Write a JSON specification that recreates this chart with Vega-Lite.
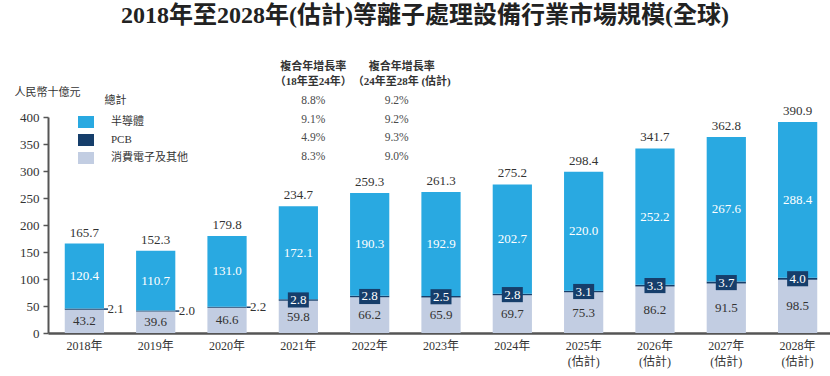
{
  "$schema": "https://vega.github.io/schema/vega-lite/v6.json",
  "width": 786,
  "height": 216,
  "autosize": {"type": "none"},
  "padding": {"left": 48, "top": 117, "right": 0, "bottom": 43},
  "background": "white",
  "config": {
    "view": {"stroke": null},
    "font": "Liberation Serif, Noto Sans CJK TC",
    "axisY": {
      "grid": false,
      "labelOverlap": false,
      "labelFont": "Liberation Serif",
      "labelFontSize": 13,
      "labelColor": "#333333",
      "labelPadding": 4,
      "tickColor": "#555555",
      "tickSize": 5,
      "tickWidth": 1.5,
      "domainColor": "#555555",
      "domainWidth": 2,
      "titleAngle": 0,
      "titleX": -34,
      "titleY": -25,
      "titleAlign": "left",
      "titleBaseline": "middle",
      "titleFont": "Noto Sans CJK TC",
      "titleFontSize": 11,
      "titleFontWeight": "normal",
      "titleColor": "#333333"
    }
  },
  "title": {
    "text": "2018年至2028年(估計)等離子處理設備行業市場規模(全球)",
    "font": "Liberation Serif, Noto Sans CJK TC",
    "fontSize": 24,
    "fontWeight": "bold",
    "color": "#222222",
    "anchor": "middle",
    "frame": "group",
    "dx": -16,
    "offset": 33
  },
  "datasets": {
    "bars": [
      {"year": "2018年", "semi": 120.4, "pcb": 2.1, "cons": 43.2, "total": 165.7},
      {"year": "2019年", "semi": 110.7, "pcb": 2.0, "cons": 39.6, "total": 152.3},
      {"year": "2020年", "semi": 131.0, "pcb": 2.2, "cons": 46.6, "total": 179.8},
      {"year": "2021年", "semi": 172.1, "pcb": 2.8, "cons": 59.8, "total": 234.7},
      {"year": "2022年", "semi": 190.3, "pcb": 2.8, "cons": 66.2, "total": 259.3},
      {"year": "2023年", "semi": 192.9, "pcb": 2.5, "cons": 65.9, "total": 261.3},
      {"year": "2024年", "semi": 202.7, "pcb": 2.8, "cons": 69.7, "total": 275.2},
      {"year": "2025年", "semi": 220.0, "pcb": 3.1, "cons": 75.3, "total": 298.4},
      {"year": "2026年", "semi": 252.2, "pcb": 3.3, "cons": 86.2, "total": 341.7},
      {"year": "2027年", "semi": 267.6, "pcb": 3.7, "cons": 91.5, "total": 362.8},
      {"year": "2028年", "semi": 288.4, "pcb": 4.0, "cons": 98.5, "total": 390.9}
    ],
    "cagr": [
      {"row": "hdr", "name": "", "c1": "複合年增長率\n（18年至24年）", "c2": "複合年增長率\n（24年至28年 (估計)"},
      {"row": "total", "name": "總計", "c1": "8.8%", "c2": "9.2%"},
      {"row": "semi", "name": "", "c1": "9.1%", "c2": "9.2%"},
      {"row": "pcb", "name": "", "c1": "4.9%", "c2": "9.3%"},
      {"row": "cons", "name": "", "c1": "8.3%", "c2": "9.0%"}
    ]
  },
  "layer": [
    {
      "data": {"name": "bars"},
      "transform": [
        {"fold": ["cons", "pcb", "semi"], "as": ["seg", "value"]},
        {"calculate": "indexof(['cons','pcb','semi'], datum.seg)", "as": "ord"},
        {"stack": "value", "groupby": ["year"], "sort": [{"field": "ord", "order": "ascending"}], "as": ["v0", "v1"]},
        {"calculate": "(datum.v0 + datum.v1) / 2", "as": "mid"},
        {"calculate": "toNumber(slice(datum.year, 0, 4))", "as": "yr"}
      ],
      "encoding": {
        "x": {
          "field": "year",
          "type": "ordinal",
          "sort": null,
          "scale": {
            "domain": ["2018年", "2019年", "2020年", "2021年", "2022年", "2023年", "2024年", "2025年", "2026年", "2027年", "2028年"],
            "paddingInner": 0.45,
            "paddingOuter": 0.235
          },
          "axis": {
            "title": null,
            "ticks": false,
            "domainColor": "#555555",
            "domainWidth": 2.5,
            "labelFont": "Liberation Serif, Noto Sans CJK TC",
            "labelFontSize": 12,
            "labelColor": "#333333",
            "labelPadding": 7,
            "labelLineHeight": 16,
            "labelAngle": 0,
            "labelExpr": "toNumber(slice(datum.value, 0, 4)) >= 2025 ? [datum.value, '(估計)'] : datum.value"
          }
        }
      },
      "layer": [
        {
          "mark": {"type": "bar"},
          "encoding": {
            "y": {
              "field": "v0",
              "type": "quantitative",
              "scale": {"domain": [0, 400], "nice": false},
              "axis": {"values": [0, 50, 100, 150, 200, 250, 300, 350, 400], "title": "人民幣十億元"}
            },
            "y2": {"field": "v1"},
            "color": {
              "field": "seg",
              "type": "nominal",
              "scale": {"domain": ["semi", "pcb", "cons"], "range": ["#29A9E1", "#163E6B", "#C2CDE2"]},
              "legend": {
                "orient": "none",
                "legendX": 30,
                "legendY": -3,
                "title": null,
                "padding": 0,
                "symbolType": "M-1,-0.75H1V0.75H-1Z",
                "symbolSize": 256,
                "symbolStrokeWidth": 0,
                "symbolOpacity": 1,
                "labelExpr": "datum.value == 'semi' ? '半導體' : datum.value == 'pcb' ? 'PCB' : '消費電子及其他'",
                "labelFont": "Liberation Serif, Noto Sans CJK TC",
                "labelFontSize": 11,
                "labelColor": "#333333",
                "labelOffset": 17,
                "rowPadding": 4
              }
            },
            "order": {"field": "ord"}
          }
        },
        {
          "transform": [{"filter": "datum.seg == 'semi'"}],
          "mark": {"type": "text", "color": "white", "fontSize": 13, "font": "Liberation Serif", "baseline": "middle"},
          "encoding": {
            "y": {"field": "mid", "type": "quantitative", "axis": {"values": [0, 50, 100, 150, 200, 250, 300, 350, 400], "title": "人民幣十億元"}},
            "text": {"field": "value", "type": "quantitative", "format": ".1f"}
          }
        },
        {
          "transform": [{"filter": "datum.seg == 'cons'"}],
          "mark": {"type": "text", "color": "#333333", "fontSize": 13, "font": "Liberation Serif", "baseline": "middle"},
          "encoding": {
            "y": {"field": "mid", "type": "quantitative", "axis": {"values": [0, 50, 100, 150, 200, 250, 300, 350, 400], "title": "人民幣十億元"}},
            "text": {"field": "value", "type": "quantitative", "format": ".1f"}
          }
        },
        {
          "transform": [{"filter": "datum.seg == 'semi'"}],
          "mark": {"type": "text", "color": "#333333", "fontSize": 13, "font": "Liberation Serif", "baseline": "bottom", "dy": -4},
          "encoding": {
            "y": {"field": "v1", "type": "quantitative", "axis": {"values": [0, 50, 100, 150, 200, 250, 300, 350, 400], "title": "人民幣十億元"}},
            "text": {"field": "total", "type": "quantitative", "format": ".1f"}
          }
        },
        {
          "transform": [{"filter": "datum.seg == 'pcb' && datum.yr >= 2021"}],
          "mark": {"type": "point", "shape": "M-1,-0.72H1V0.72H-1Z", "size": 441, "filled": true, "opacity": 1, "color": "#163E6B", "strokeWidth": 0},
          "encoding": {
            "y": {"field": "mid", "type": "quantitative", "axis": {"values": [0, 50, 100, 150, 200, 250, 300, 350, 400], "title": "人民幣十億元"}}
          }
        },
        {
          "transform": [{"filter": "datum.seg == 'pcb' && datum.yr >= 2021"}],
          "mark": {"type": "text", "color": "white", "fontSize": 13, "font": "Liberation Serif", "baseline": "middle"},
          "encoding": {
            "y": {"field": "mid", "type": "quantitative", "axis": {"values": [0, 50, 100, 150, 200, 250, 300, 350, 400], "title": "人民幣十億元"}},
            "text": {"field": "value", "type": "quantitative", "format": ".1f"}
          }
        },
        {
          "transform": [{"filter": "datum.seg == 'pcb' && datum.yr < 2021"}],
          "mark": {"type": "rule", "color": "#163E6B", "strokeWidth": 1.5, "x2Offset": 4},
          "encoding": {
            "x": {"field": "year", "type": "ordinal", "bandPosition": 1},
            "x2": {"field": "year", "bandPosition": 1},
            "y": {"field": "mid", "type": "quantitative", "axis": {"values": [0, 50, 100, 150, 200, 250, 300, 350, 400], "title": "人民幣十億元"}}
          }
        },
        {
          "transform": [{"filter": "datum.seg == 'pcb' && datum.yr < 2021"}],
          "mark": {"type": "text", "color": "#333333", "fontSize": 13, "font": "Liberation Serif", "baseline": "middle", "align": "left", "dx": 23},
          "encoding": {
            "y": {"field": "mid", "type": "quantitative", "axis": {"values": [0, 50, 100, 150, 200, 250, 300, 350, 400], "title": "人民幣十億元"}},
            "text": {"field": "value", "type": "quantitative", "format": ".1f"}
          }
        }
      ]
    },
    {
      "data": {"name": "cagr"},
      "encoding": {
        "y": {
          "field": "row",
          "type": "ordinal",
          "scale": {"type": "point", "domain": ["hdr", "total", "semi", "pcb", "cons"], "range": [-34.5, 39.5], "padding": 0},
          "axis": null
        }
      },
      "layer": [
        {
          "transform": [{"filter": "datum.row == 'total'"}],
          "mark": {"type": "text", "color": "#333333", "fontSize": 11, "font": "Noto Sans CJK TC", "baseline": "middle", "dx": 31},
          "encoding": {
            "x": {"datum": "2018年", "type": "ordinal"},
            "text": {"field": "name"}
          }
        },
        {
          "transform": [{"filter": "datum.row != 'hdr'"}],
          "mark": {"type": "text", "color": "#4a4a4a", "fontSize": 11.5, "font": "Liberation Serif", "baseline": "middle", "dx": 15},
          "encoding": {
            "x": {"datum": "2021年", "type": "ordinal"},
            "text": {"field": "c1"}
          }
        },
        {
          "transform": [{"filter": "datum.row != 'hdr'"}],
          "mark": {"type": "text", "color": "#4a4a4a", "fontSize": 11.5, "font": "Liberation Serif", "baseline": "middle", "dx": 27},
          "encoding": {
            "x": {"datum": "2022年", "type": "ordinal"},
            "text": {"field": "c2"}
          }
        },
        {
          "transform": [{"filter": "datum.row == 'hdr'"}],
          "mark": {"type": "text", "color": "#333333", "fontSize": 11, "fontWeight": "bold", "font": "Liberation Serif, Noto Sans CJK TC", "baseline": "middle", "lineBreak": "\n", "lineHeight": 15, "dx": 15, "dy": -15.5},
          "encoding": {
            "x": {"datum": "2021年", "type": "ordinal"},
            "text": {"field": "c1"}
          }
        },
        {
          "transform": [{"filter": "datum.row == 'hdr'"}],
          "mark": {"type": "text", "color": "#333333", "fontSize": 11, "fontWeight": "bold", "font": "Liberation Serif, Noto Sans CJK TC", "baseline": "middle", "lineBreak": "\n", "lineHeight": 15, "dx": 32, "dy": -15.5},
          "encoding": {
            "x": {"datum": "2022年", "type": "ordinal"},
            "text": {"field": "c2"}
          }
        }
      ]
    }
  ],
  "resolve": {"scale": {"y": "independent"}, "axis": {"y": "independent"}}
}
